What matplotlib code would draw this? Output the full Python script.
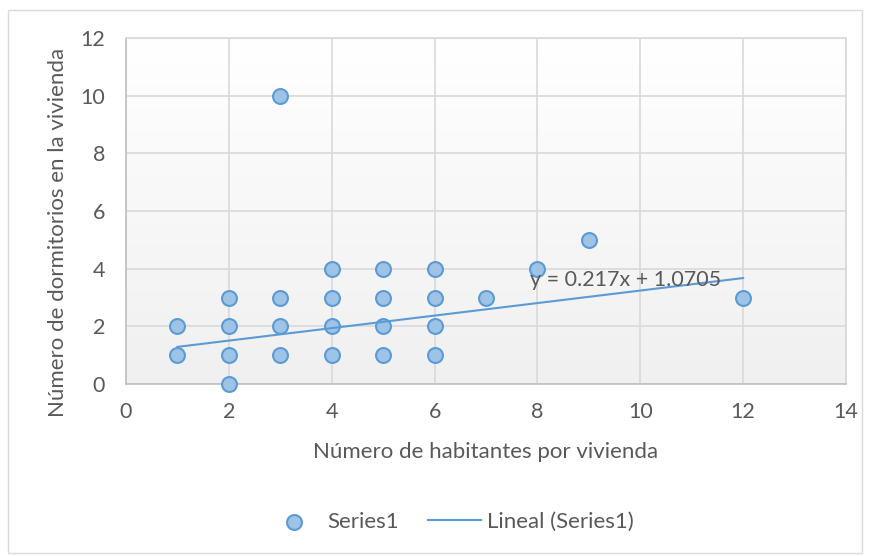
import numpy as np
import matplotlib.pyplot as plt
from matplotlib.patches import Rectangle

# data
habitantes = [1, 1, 2, 2, 2, 2, 3, 3, 3, 3, 4, 4, 4, 4, 5, 5, 5, 5, 6, 6, 6, 6, 7, 8, 9, 12]
dormitorios = [1, 2, 0, 1, 2, 3, 1, 2, 3, 10, 1, 2, 3, 4, 1, 2, 3, 4, 1, 2, 3, 4, 3, 4, 5, 3]
slope, intercept = 0.217, 1.0705
xticks = [0, 2, 4, 6, 8, 10, 12, 14]
yticks = [0, 2, 4, 6, 8, 10, 12]

plt.rcParams['font.family'] = ['Lato', 'DejaVu Sans']
txt = '#595959'

fig = plt.figure(figsize=(8.71, 5.56), dpi=100)
fig.patches.append(Rectangle((8 / 871, 1 - 553 / 556), 854 / 871, 543 / 556,
                             transform=fig.transFigure, fill=False,
                             edgecolor='#D9D9D9', linewidth=1))
ax = fig.add_axes([126 / 871, 1 - 384 / 556, 720 / 871, 346 / 556])

# soft gradient in the plot area
grad = np.linspace(0, 1, 256).reshape(-1, 1)
ax.imshow(grad, cmap=plt.matplotlib.colors.LinearSegmentedColormap.from_list(
    'g', ['#F0F0F0', '#FFFFFF']), extent=[0, 1, 0, 1], transform=ax.transAxes,
    aspect='auto', origin='lower', zorder=0)

ax.set_xlim(0, 14)
ax.set_ylim(0, 12)
ax.set_xticks(xticks)
ax.set_yticks(yticks)
ax.grid(True, color='#D9D9D9', linewidth=1.2, zorder=1)
ax.tick_params(axis='y', length=0, labelsize=15.5, colors=txt, pad=15)
ax.tick_params(axis='x', length=0, labelsize=15.5, colors=txt, pad=13)
for s in ax.spines.values():
    s.set_color('#D9D9D9')
    s.set_linewidth(1.2)
ax.spines['left'].set_color('#BFBFBF')
ax.spines['bottom'].set_color('#BFBFBF')

ax.scatter(habitantes, dormitorios, s=115, c='#9DC3E6', edgecolors='#5B9BD5',
           linewidths=1.5, zorder=3, clip_on=False, label='Series1')
xs = np.array([min(habitantes), max(habitantes)])
ax.plot(xs, slope * xs + intercept, color='#5B9BD5', linewidth=1.5, zorder=4,
        label='Lineal (Series1)')
ax.text(7.85, 3.6, 'y = 0.217x + 1.0705', fontsize=15.5, color=txt, va='center', zorder=5)

ax.set_xlabel('Número de habitantes por vivienda', fontsize=16, color=txt, labelpad=14)
ax.set_ylabel('Número de dormitorios en la vivienda', fontsize=16, color=txt, va='center')
ax.yaxis.set_label_coords(58 / 871, 1 - 232 / 556, transform=fig.transFigure)

fig.legend(loc='center', bbox_to_anchor=(451 / 871, 1 - 522 / 556), ncol=2, frameon=False,
           fontsize=16, labelcolor=txt, handlelength=2.35, columnspacing=1.35,
           handletextpad=0.3)

fig.savefig('out.png', dpi=100)
